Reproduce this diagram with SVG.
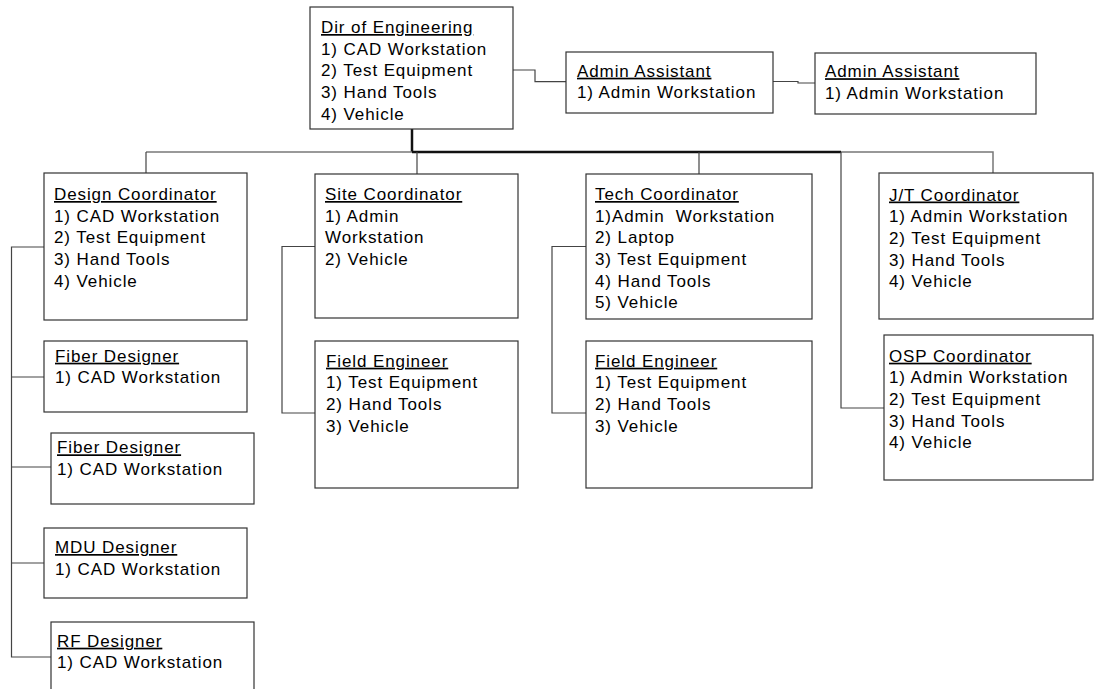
<svg xmlns="http://www.w3.org/2000/svg" width="1100" height="689" viewBox="0 0 1100 689">
<style>
.box{fill:#fff;stroke:#333;stroke-width:1.2}
.t{font-family:"Liberation Sans",Arial,sans-serif;font-size:17px;fill:#000;letter-spacing:0.9px}
.h{text-decoration:underline}
.c{fill:none;stroke:#444;stroke-width:1.2}
.g{fill:none;stroke:#777;stroke-width:1.5}
.k{fill:none;stroke:#111;stroke-width:2.5}
</style>
<rect width="1100" height="689" fill="#fff"/>
<g id="connectors">
<path class="c" d="M513,70 H535 V81.7 H566"/>
<path class="c" d="M773,81.5 H798 V83 H815"/>
<path class="k" d="M412,129 V152"/>
<path class="g" d="M146,152 H412"/>
<path class="k" d="M412,152 H841"/>
<path class="g" d="M841,152 H993 V173"/>
<path class="c" d="M146,152 V173"/>
<path class="c" d="M417,152 V174"/>
<path class="c" d="M699,152 V174"/>
<path class="c" d="M841,152 V408 H884"/>
<path class="c" d="M44,247 H11.5 V657 H51"/>
<path class="c" d="M11.5,377 H44"/>
<path class="c" d="M11.5,467 H51"/>
<path class="c" d="M11.5,563 H44"/>
<path class="c" d="M315,246.5 H282 V413 H315"/>
<path class="c" d="M586,246.5 H552 V413 H586"/>
</g>
<g id="dir">
<rect class="box" x="310" y="7" width="203" height="122"/>
<text class="t"><tspan class="h" x="321" y="33">Dir of Engineering</tspan><tspan x="321" y="54.7">1) CAD Workstation</tspan><tspan x="321" y="76.4">2) Test Equipment</tspan><tspan x="321" y="98">3) Hand Tools</tspan><tspan x="321" y="119.7">4) Vehicle</tspan></text>
</g>
<g id="admin1">
<rect class="box" x="566" y="52" width="207" height="61"/>
<text class="t"><tspan class="h" x="577" y="76.7">Admin Assistant</tspan><tspan x="577" y="98.4">1) Admin Workstation</tspan></text>
</g>
<g id="admin2">
<rect class="box" x="815" y="53" width="221" height="61"/>
<text class="t"><tspan class="h" x="825" y="77.2">Admin Assistant</tspan><tspan x="825" y="98.9">1) Admin Workstation</tspan></text>
</g>
<g id="design">
<rect class="box" x="44" y="173" width="203" height="147"/>
<text class="t"><tspan class="h" x="54" y="200">Design Coordinator</tspan><tspan x="54" y="221.7">1) CAD Workstation</tspan><tspan x="54" y="243.4">2) Test Equipment</tspan><tspan x="54" y="265">3) Hand Tools</tspan><tspan x="54" y="286.7">4) Vehicle</tspan></text>
</g>
<g id="site">
<rect class="box" x="315" y="174" width="203" height="144"/>
<text class="t"><tspan class="h" x="325" y="200">Site Coordinator</tspan><tspan x="325" y="221.7">1) Admin</tspan><tspan x="325" y="243.4">Workstation</tspan><tspan x="325" y="265">2) Vehicle</tspan></text>
</g>
<g id="tech">
<rect class="box" x="586" y="174" width="226" height="145"/>
<text class="t"><tspan class="h" x="595" y="200">Tech Coordinator</tspan><tspan x="595" y="221.7">1)Admin&#160; Workstation</tspan><tspan x="595" y="243.4">2) Laptop</tspan><tspan x="595" y="265">3) Test Equipment</tspan><tspan x="595" y="286.7">4) Hand Tools</tspan><tspan x="595" y="308.4">5) Vehicle</tspan></text>
</g>
<g id="jt">
<rect class="box" x="879" y="173" width="214" height="146"/>
<text class="t"><tspan class="h" x="889" y="200.5">J/T Coordinator</tspan><tspan x="889" y="222.2">1) Admin Workstation</tspan><tspan x="889" y="243.9">2) Test Equipment</tspan><tspan x="889" y="265.5">3) Hand Tools</tspan><tspan x="889" y="287.2">4) Vehicle</tspan></text>
</g>
<g id="osp">
<rect class="box" x="884" y="335" width="209" height="145"/>
<text class="t"><tspan class="h" x="889" y="361.7">OSP Coordinator</tspan><tspan x="889" y="383.4">1) Admin Workstation</tspan><tspan x="889" y="405">2) Test Equipment</tspan><tspan x="889" y="426.7">3) Hand Tools</tspan><tspan x="889" y="448.4">4) Vehicle</tspan></text>
</g>
<g id="field1">
<rect class="box" x="315" y="341" width="203" height="147"/>
<text class="t"><tspan class="h" x="326" y="366.7">Field Engineer</tspan><tspan x="326" y="388.4">1) Test Equipment</tspan><tspan x="326" y="410">2) Hand Tools</tspan><tspan x="326" y="431.7">3) Vehicle</tspan></text>
</g>
<g id="field2">
<rect class="box" x="586" y="341" width="226" height="147"/>
<text class="t"><tspan class="h" x="595" y="366.7">Field Engineer</tspan><tspan x="595" y="388.4">1) Test Equipment</tspan><tspan x="595" y="410">2) Hand Tools</tspan><tspan x="595" y="431.7">3) Vehicle</tspan></text>
</g>
<g id="fiber1">
<rect class="box" x="44" y="341" width="203" height="71"/>
<text class="t"><tspan class="h" x="55" y="361.7">Fiber Designer</tspan><tspan x="55" y="383.4">1) CAD Workstation</tspan></text>
</g>
<g id="fiber2">
<rect class="box" x="51" y="433" width="203" height="71"/>
<text class="t"><tspan class="h" x="57" y="453.3">Fiber Designer</tspan><tspan x="57" y="475">1) CAD Workstation</tspan></text>
</g>
<g id="mdu">
<rect class="box" x="44" y="528" width="203" height="70"/>
<text class="t"><tspan class="h" x="55" y="553">MDU Designer</tspan><tspan x="55" y="574.7">1) CAD Workstation</tspan></text>
</g>
<g id="rf">
<rect class="box" x="51" y="622" width="203" height="80"/>
<text class="t"><tspan class="h" x="57" y="646.7">RF Designer</tspan><tspan x="57" y="668.4">1) CAD Workstation</tspan></text>
</g>
</svg>
